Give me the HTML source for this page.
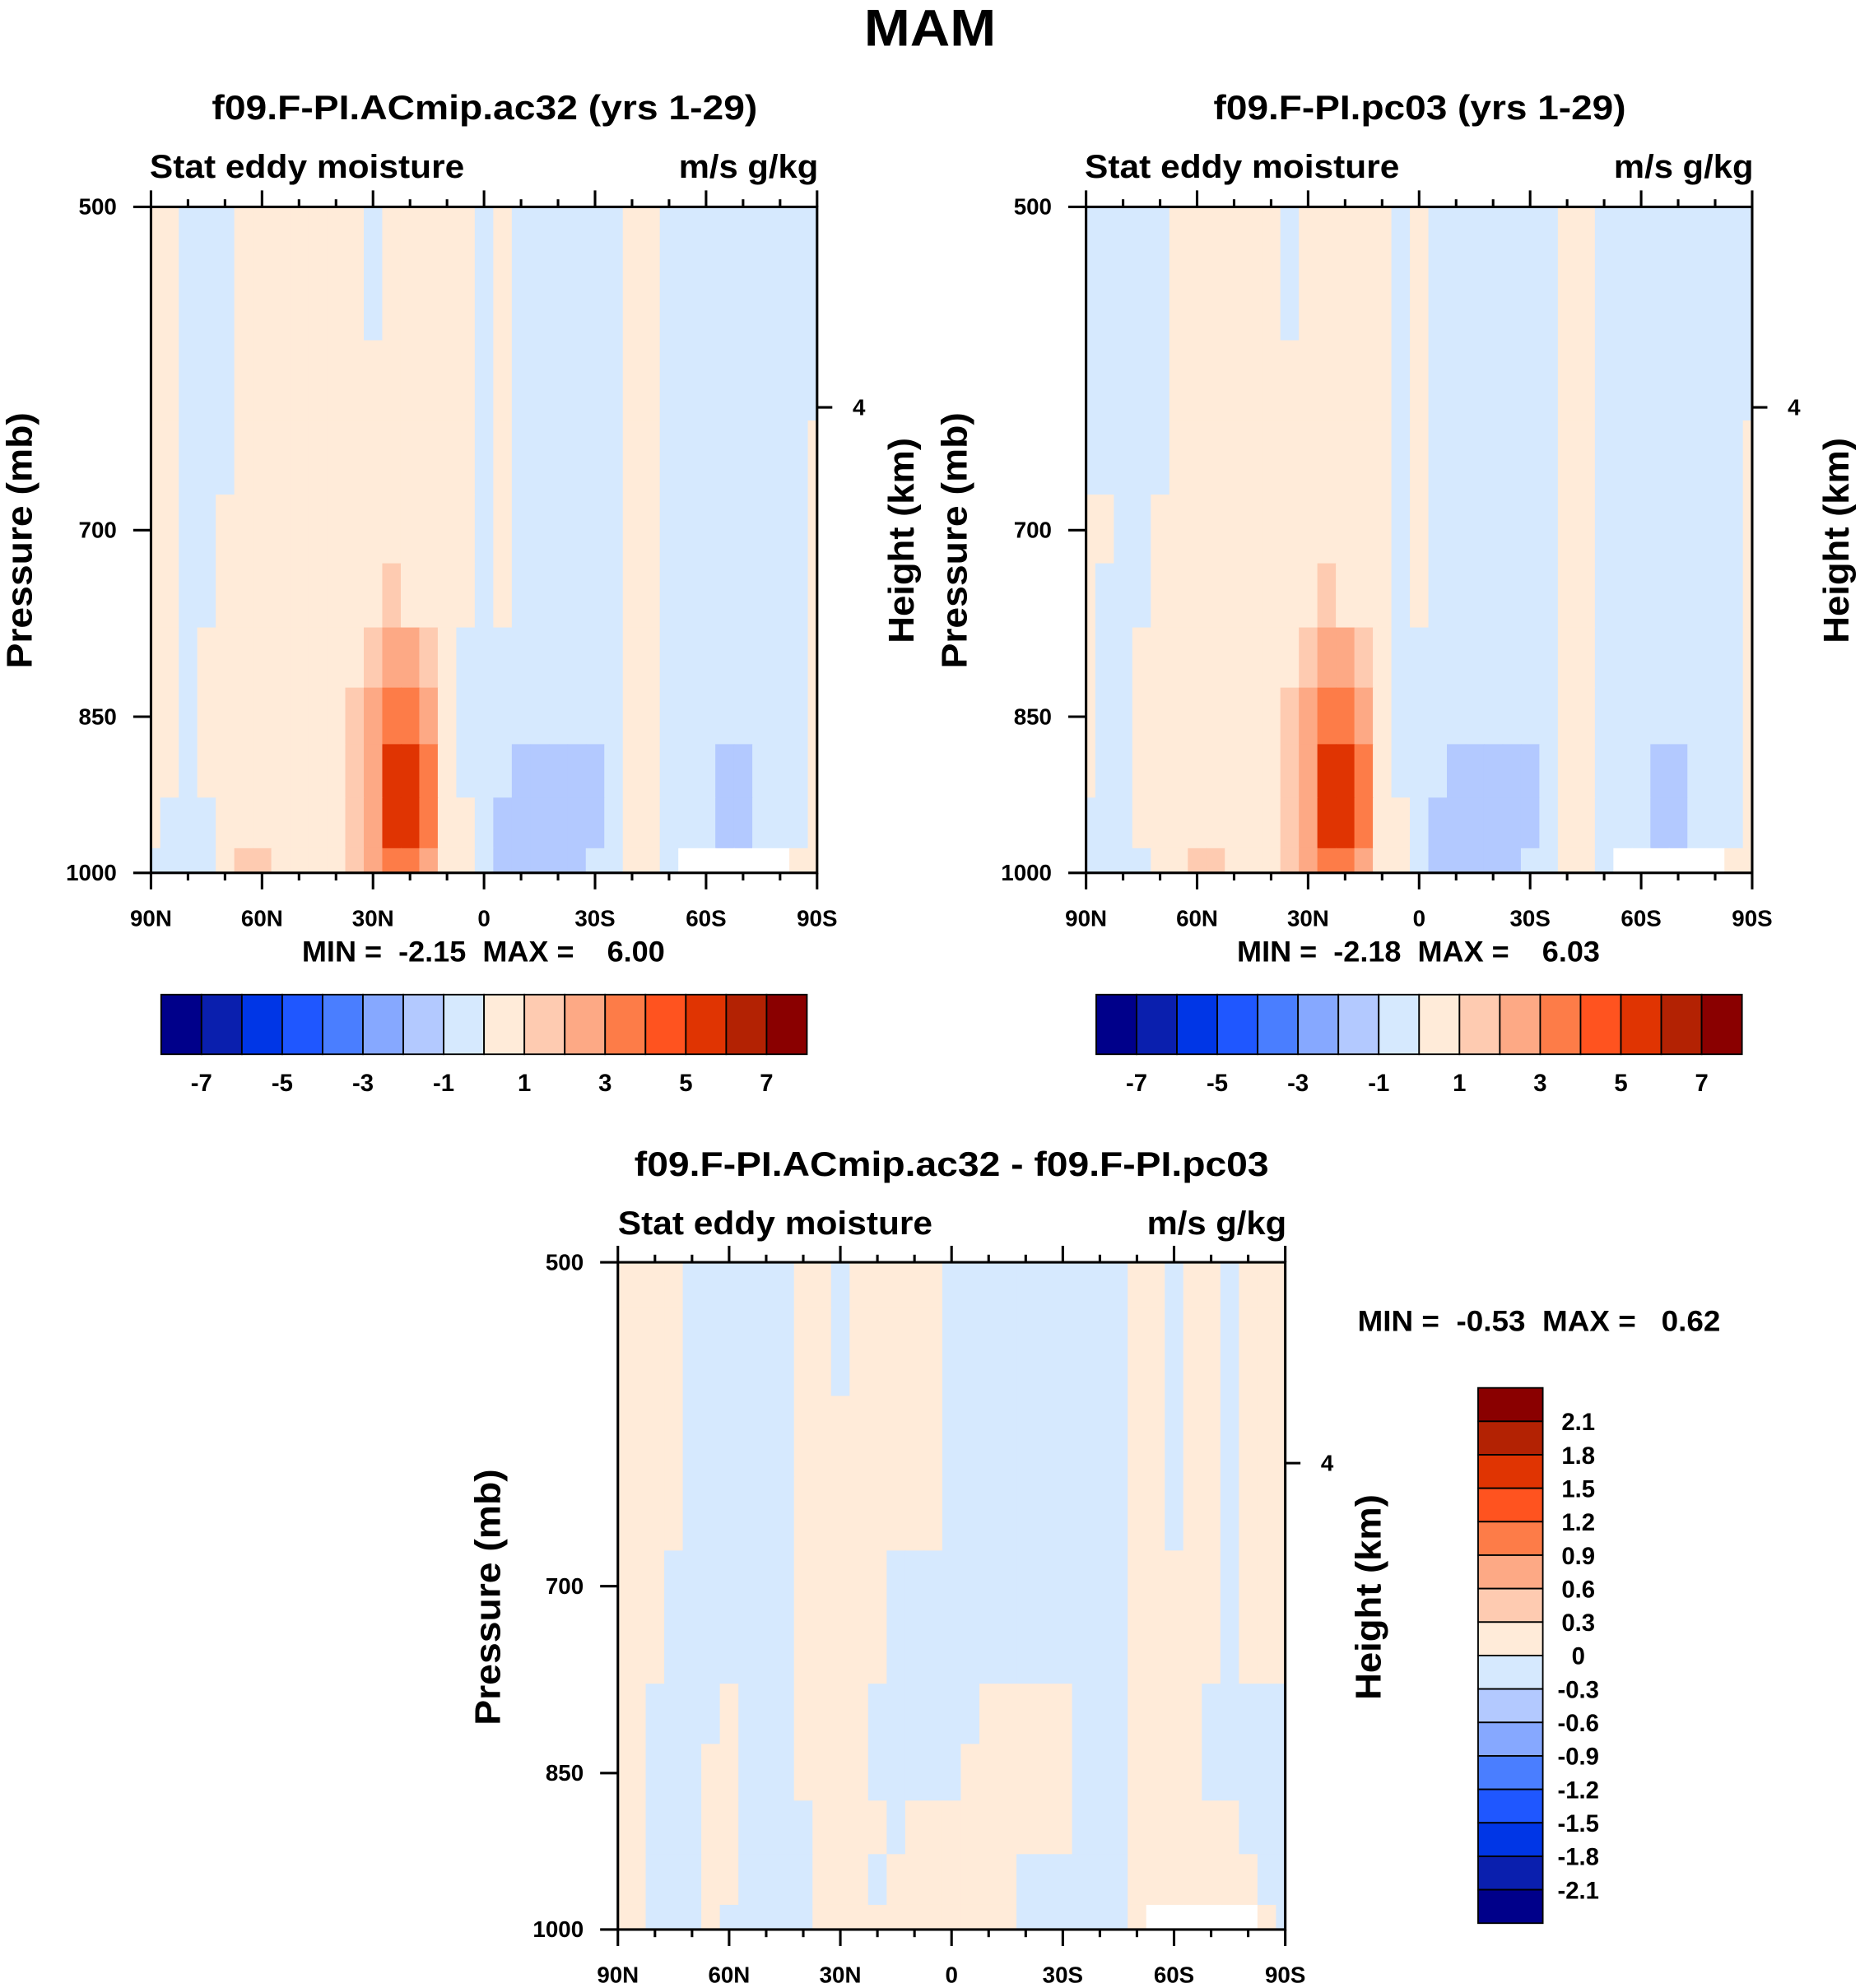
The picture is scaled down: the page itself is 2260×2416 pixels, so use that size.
<!DOCTYPE html>
<html><head><meta charset="utf-8"><style>
html,body{margin:0;padding:0;background:#fff;}
svg{display:block;font-family:"Liberation Sans",sans-serif;font-weight:bold;}
</style></head><body>
<svg id="fig" width="2260" height="2416" viewBox="0 0 1466 1567" xmlns="http://www.w3.org/2000/svg">
<rect x="0" y="0" width="1466" height="1567" fill="#fff"/>
<text x="733" y="36" font-size="41" text-anchor="middle" textLength="104" lengthAdjust="spacingAndGlyphs">MAM</text>
<text x="382" y="94" font-size="27" text-anchor="middle" textLength="430" lengthAdjust="spacingAndGlyphs">f09.F-PI.ACmip.ac32 (yrs 1-29)</text>
<text x="118" y="140" font-size="26" textLength="248" lengthAdjust="spacingAndGlyphs">Stat eddy moisture</text>
<text x="645" y="140" font-size="26" text-anchor="end" textLength="110" lengthAdjust="spacingAndGlyphs">m/s g/kg</text>
<text x="1119" y="94" font-size="27" text-anchor="middle" textLength="325" lengthAdjust="spacingAndGlyphs">f09.F-PI.pc03 (yrs 1-29)</text>
<text x="855" y="140" font-size="26" textLength="248" lengthAdjust="spacingAndGlyphs">Stat eddy moisture</text>
<text x="1382" y="140" font-size="26" text-anchor="end" textLength="110" lengthAdjust="spacingAndGlyphs">m/s g/kg</text>
<text x="750" y="927" font-size="27" text-anchor="middle" textLength="500" lengthAdjust="spacingAndGlyphs">f09.F-PI.ACmip.ac32 - f09.F-PI.pc03</text>
<text x="487" y="973" font-size="26" textLength="248" lengthAdjust="spacingAndGlyphs">Stat eddy moisture</text>
<text x="1014" y="973" font-size="26" text-anchor="end" textLength="110" lengthAdjust="spacingAndGlyphs">m/s g/kg</text>
<text transform="translate(25,426) rotate(-90)" font-size="28" text-anchor="middle" textLength="202" lengthAdjust="spacingAndGlyphs">Pressure (mb)</text>
<text transform="translate(720,426) rotate(-90)" font-size="28" text-anchor="middle" textLength="162" lengthAdjust="spacingAndGlyphs">Height (km)</text>
<text transform="translate(762,426) rotate(-90)" font-size="28" text-anchor="middle" textLength="202" lengthAdjust="spacingAndGlyphs">Pressure (mb)</text>
<text transform="translate(1457,426) rotate(-90)" font-size="28" text-anchor="middle" textLength="162" lengthAdjust="spacingAndGlyphs">Height (km)</text>
<text transform="translate(394,1259) rotate(-90)" font-size="28" text-anchor="middle" textLength="202" lengthAdjust="spacingAndGlyphs">Pressure (mb)</text>
<text transform="translate(1088,1259) rotate(-90)" font-size="28" text-anchor="middle" textLength="162" lengthAdjust="spacingAndGlyphs">Height (km)</text>
<text x="381" y="758" font-size="23" text-anchor="middle" xml:space="preserve" textLength="286" lengthAdjust="spacingAndGlyphs">MIN =  -2.15  MAX =    6.00</text>
<text x="1118" y="758" font-size="23" text-anchor="middle" xml:space="preserve" textLength="286" lengthAdjust="spacingAndGlyphs">MIN =  -2.18  MAX =    6.03</text>
<text x="1213" y="1049" font-size="23" text-anchor="middle" xml:space="preserve" textLength="286" lengthAdjust="spacingAndGlyphs">MIN =  -0.53  MAX =   0.62</text>
</svg>
<script>
const lats = [90,85,80,75,70,65,60,55,50,45,40,35,30,25,20,15,10,5,0,-5,-10,-15,-20,-25,-30,-35,-40,-45,-50,-55,-60,-65,-70,-75,-80,-85,-90];
const levels = [500,550,600,650,700,750,800,850,900,950,1000];
const xTickLats = [90,60,30,0,-30,-60,-90];
const xTickLabels = ["90N","60N","30N","0","30S","60S","90S"];
const yTickLevels = [500,700,850,1000];
const yTickLabels = ["500","700","850","1000"];
const heightTickP = [616];
const heightTickLabels = ["4"];
const cbLabelsA = ["-7","-5","-3","-1","1","3","5","7"];
const cbLabelsC = ["2.1","1.8","1.5","1.2","0.9","0.6","0.3","0","-0.3","-0.6","-0.9","-1.2","-1.5","-1.8","-2.1"];
const palette = ['#00008a','#0a1fae','#0036e6','#1f57ff','#4a7eff','#86a8ff','#b3c9ff','#d6e9fe','#ffebd9','#fecbb1','#fda985','#fd7c48','#ff531f','#e03402','#b32203','#8a0000'];

const fieldA = [
[.5,.5,-.5,-.5,-.5,.5,.5,.5,.5,.5,.5,.5,-.5,.5,.5,.5,.5,.5,-.5,.5,-.5,-.5,-.5,-.5,-.5,-.5,.5,.5,-.5,-.5,-.5,-.5,-.5,-.5,-.5,-.5,-.5],
[.5,.5,-.5,-.5,-.5,.5,.5,.5,.5,.5,.5,.5,-.5,.5,.5,.5,.5,.5,-.5,.5,-.5,-.5,-.5,-.5,-.5,-.5,.5,.5,-.5,-.5,-.5,-.5,-.5,-.5,-.5,-.5,-.5],
[.5,.5,-.5,-.5,-.5,.5,.5,.5,.5,.5,.5,.5,.5,.5,.5,.5,.5,.5,-.5,.5,-.5,-.5,-.5,-.5,-.5,-.5,.5,.5,-.5,-.5,-.5,-.5,-.5,-.5,-.5,-.5,-.5],
[.5,.5,-.5,-.5,-.5,.5,.5,.5,.5,.5,.5,.5,.5,.5,.5,.5,.5,.5,-.5,.5,-.5,-.5,-.5,-.5,-.5,-.5,.5,.5,-.5,-.5,-.5,-.5,-.5,-.5,-.5,-.5,.5],
[.5,.5,-.5,-.5,.5,.5,.5,.5,.5,.5,.5,.5,.5,.5,.5,.5,.5,.5,-.5,.5,-.5,-.5,-.5,-.5,-.5,-.5,.5,.5,-.5,-.5,-.5,-.5,-.5,-.5,-.5,-.5,.5],
[.5,.5,-.5,-.5,.5,.5,.5,.5,.5,.5,.5,.5,.5,1.5,.5,.5,.5,.5,-.5,.5,-.5,-.5,-.5,-.5,-.5,-.5,.5,.5,-.5,-.5,-.5,-.5,-.5,-.5,-.5,-.5,.5],
[.5,.5,-.5,.5,.5,.5,.5,.5,.5,.5,.5,.5,1.5,2.5,2.5,1.5,.5,-.5,-.5,-.5,-.5,-.5,-.5,-.5,-.5,-.5,.5,.5,-.5,-.5,-.5,-.5,-.5,-.5,-.5,-.5,.5],
[.5,.5,-.5,.5,.5,.5,.5,.5,.5,.5,.5,1.5,2.5,3.5,3.5,2.5,.5,-.5,-.5,-.5,-.5,-.5,-.5,-.5,-.5,-.5,.5,.5,-.5,-.5,-.5,-.5,-.5,-.5,-.5,-.5,.5],
[.5,.5,-.5,.5,.5,.5,.5,.5,.5,.5,.5,1.5,2.5,5.5,5.5,3.5,.5,-.5,-.5,-.5,-1.5,-1.5,-1.5,-1.5,-1.5,-.5,.5,.5,-.5,-.5,-.5,-1.5,-1.5,-.5,-.5,-.5,.5],
[.5,-.5,-.5,-.5,.5,.5,.5,.5,.5,.5,.5,1.5,2.5,5.5,5.5,3.5,.5,.5,-.5,-1.5,-1.5,-1.5,-1.5,-1.5,-1.5,-.5,.5,.5,-.5,-.5,-.5,-1.5,-1.5,-.5,-.5,-.5,.5],
[-.5,-.5,-.5,-.5,.5,1.5,1.5,.5,.5,.5,.5,1.5,2.5,3.5,3.5,2.5,.5,.5,-.5,-1.5,-1.5,-1.5,-1.5,-1.5,-.5,-.5,.5,.5,-.5,null,null,null,null,null,null,.5,.5]
];
const fieldB = [
[-.5,-.5,-.5,-.5,-.5,.5,.5,.5,.5,.5,.5,-.5,.5,.5,.5,.5,.5,-.5,.5,-.5,-.5,-.5,-.5,-.5,-.5,-.5,.5,.5,-.5,-.5,-.5,-.5,-.5,-.5,-.5,-.5,-.5],
[-.5,-.5,-.5,-.5,-.5,.5,.5,.5,.5,.5,.5,-.5,.5,.5,.5,.5,.5,-.5,.5,-.5,-.5,-.5,-.5,-.5,-.5,-.5,.5,.5,-.5,-.5,-.5,-.5,-.5,-.5,-.5,-.5,-.5],
[-.5,-.5,-.5,-.5,-.5,.5,.5,.5,.5,.5,.5,.5,.5,.5,.5,.5,.5,-.5,.5,-.5,-.5,-.5,-.5,-.5,-.5,-.5,.5,.5,-.5,-.5,-.5,-.5,-.5,-.5,-.5,-.5,-.5],
[-.5,-.5,-.5,-.5,-.5,.5,.5,.5,.5,.5,.5,.5,.5,.5,.5,.5,.5,-.5,.5,-.5,-.5,-.5,-.5,-.5,-.5,-.5,.5,.5,-.5,-.5,-.5,-.5,-.5,-.5,-.5,-.5,.5],
[.5,.5,-.5,-.5,.5,.5,.5,.5,.5,.5,.5,.5,.5,.5,.5,.5,.5,-.5,.5,-.5,-.5,-.5,-.5,-.5,-.5,-.5,.5,.5,-.5,-.5,-.5,-.5,-.5,-.5,-.5,-.5,.5],
[.5,-.5,-.5,-.5,.5,.5,.5,.5,.5,.5,.5,.5,.5,1.5,.5,.5,.5,-.5,.5,-.5,-.5,-.5,-.5,-.5,-.5,-.5,.5,.5,-.5,-.5,-.5,-.5,-.5,-.5,-.5,-.5,.5],
[.5,-.5,-.5,.5,.5,.5,.5,.5,.5,.5,.5,.5,1.5,2.5,2.5,1.5,.5,-.5,-.5,-.5,-.5,-.5,-.5,-.5,-.5,-.5,.5,.5,-.5,-.5,-.5,-.5,-.5,-.5,-.5,-.5,.5],
[.5,-.5,-.5,.5,.5,.5,.5,.5,.5,.5,.5,1.5,2.5,3.5,3.5,2.5,.5,-.5,-.5,-.5,-.5,-.5,-.5,-.5,-.5,-.5,.5,.5,-.5,-.5,-.5,-.5,-.5,-.5,-.5,-.5,.5],
[.5,-.5,-.5,.5,.5,.5,.5,.5,.5,.5,.5,1.5,2.5,5.5,5.5,3.5,.5,-.5,-.5,-.5,-1.5,-1.5,-1.5,-1.5,-1.5,-.5,.5,.5,-.5,-.5,-.5,-1.5,-1.5,-.5,-.5,-.5,.5],
[-.5,-.5,-.5,.5,.5,.5,.5,.5,.5,.5,.5,1.5,2.5,5.5,5.5,3.5,.5,.5,-.5,-1.5,-1.5,-1.5,-1.5,-1.5,-1.5,-.5,.5,.5,-.5,-.5,-.5,-1.5,-1.5,-.5,-.5,-.5,.5],
[-.5,-.5,-.5,-.5,.5,.5,1.5,1.5,.5,.5,.5,1.5,2.5,3.5,3.5,2.5,.5,.5,-.5,-1.5,-1.5,-1.5,-1.5,-1.5,-.5,-.5,.5,.5,-.5,null,null,null,null,null,null,.5,.5]
];
const fieldC = [
[.15,.15,.15,.15,-.15,-.15,-.15,-.15,-.15,-.15,.15,.15,-.15,.15,.15,.15,.15,.15,-.15,-.15,-.15,-.15,-.15,-.15,-.15,-.15,-.15,-.15,.15,.15,-.15,.15,.15,-.15,.15,.15,.15],
[.15,.15,.15,.15,-.15,-.15,-.15,-.15,-.15,-.15,.15,.15,-.15,.15,.15,.15,.15,.15,-.15,-.15,-.15,-.15,-.15,-.15,-.15,-.15,-.15,-.15,.15,.15,-.15,.15,.15,-.15,.15,.15,.15],
[.15,.15,.15,.15,-.15,-.15,-.15,-.15,-.15,-.15,.15,.15,.15,.15,.15,.15,.15,.15,-.15,-.15,-.15,-.15,-.15,-.15,-.15,-.15,-.15,-.15,.15,.15,-.15,.15,.15,-.15,.15,.15,.15],
[.15,.15,.15,.15,-.15,-.15,-.15,-.15,-.15,-.15,.15,.15,.15,.15,.15,.15,.15,.15,-.15,-.15,-.15,-.15,-.15,-.15,-.15,-.15,-.15,-.15,.15,.15,-.15,.15,.15,-.15,.15,.15,.15],
[.15,.15,.15,-.15,-.15,-.15,-.15,-.15,-.15,-.15,.15,.15,.15,.15,.15,-.15,-.15,-.15,-.15,-.15,-.15,-.15,-.15,-.15,-.15,-.15,-.15,-.15,.15,.15,.15,.15,.15,-.15,.15,.15,.15],
[.15,.15,.15,-.15,-.15,-.15,-.15,-.15,-.15,-.15,.15,.15,.15,.15,.15,-.15,-.15,-.15,-.15,-.15,-.15,-.15,-.15,-.15,-.15,-.15,-.15,-.15,.15,.15,.15,.15,.15,-.15,.15,.15,.15],
[.15,.15,-.15,-.15,-.15,-.15,.15,-.15,-.15,-.15,.15,.15,.15,.15,-.15,-.15,-.15,-.15,-.15,-.15,.15,.15,.15,.15,.15,-.15,-.15,-.15,.15,.15,.15,.15,-.15,-.15,-.15,-.15,-.15],
[.15,.15,-.15,-.15,-.15,.15,.15,-.15,-.15,-.15,.15,.15,.15,.15,-.15,-.15,-.15,-.15,-.15,.15,.15,.15,.15,.15,.15,-.15,-.15,-.15,.15,.15,.15,.15,-.15,-.15,-.15,-.15,-.15],
[.15,.15,-.15,-.15,-.15,.15,.15,-.15,-.15,-.15,-.15,.15,.15,.15,.15,-.15,.15,.15,.15,.15,.15,.15,.15,.15,.15,-.15,-.15,-.15,.15,.15,.15,.15,.15,.15,-.15,-.15,-.15],
[.15,.15,-.15,-.15,-.15,.15,.15,-.15,-.15,-.15,-.15,.15,.15,.15,-.15,.15,.15,.15,.15,.15,.15,.15,-.15,-.15,-.15,-.15,-.15,-.15,.15,.15,.15,.15,.15,.15,.15,-.15,-.15],
[.15,.15,-.15,-.15,-.15,.15,-.15,-.15,-.15,-.15,-.15,.15,.15,.15,.15,.15,.15,.15,.15,.15,.15,.15,-.15,-.15,-.15,-.15,-.15,-.15,.15,null,null,null,null,null,null,.15,-.15]
];

const NS = "http://www.w3.org/2000/svg";
const svg = document.getElementById('fig');
function el(tag, attrs, parent){
  const e = document.createElementNS(NS, tag);
  for (const k in attrs) e.setAttribute(k, attrs[k]);
  (parent || svg).appendChild(e);
  return e;
}
function binA(v){ return Math.max(0, Math.min(15, Math.floor(v) + 8)); }
function binC(v){ return Math.max(0, Math.min(15, Math.floor(v / 0.3) + 8)); }

function drawPanel(id, field, px, py, pw, ph, binFn){
  const xOf = lat => px + (90 - lat) / 180 * pw;
  const yOf = p => py + Math.log(p / 500) / Math.log(2) * ph;
  const g = el('g', {});
  
  
  for (let k = 0; k < levels.length; k++) {
    const pTop = k === 0 ? levels[0] : Math.sqrt(levels[k] * levels[k-1]);
    const pBot = k === levels.length - 1 ? levels[k] : Math.sqrt(levels[k] * levels[k+1]);
    for (let i = 0; i < lats.length; i++) {
      const v = field[k][i];
      const x1 = Math.max(px, xOf(lats[i] + 2.5));
      const x2 = Math.min(px + pw, xOf(lats[i] - 2.5));
      const y1 = yOf(pTop), y2 = yOf(pBot);
      const fill = v === null ? '#ffffff' : palette[binFn(v)];
      const r = el('rect', {x: x1.toFixed(2), y: y1.toFixed(2), width: (x2 - x1 + 0.6).toFixed(2), height: (y2 - y1 + 0.6).toFixed(2), fill: fill}, g);
      
      
    }
  }
  const fr = el('rect', {x: px, y: py, width: pw, height: ph, fill: 'none', stroke: '#000', 'stroke-width': 2});
  
  
  for (let lat = 90; lat >= -90; lat -= 10) {
    const major = lat % 30 === 0;
    const L = major ? 13 : 6;
    const x = xOf(lat);
    const t1 = el('line', {x1: x, x2: x, y1: py, y2: py - L, stroke: '#000', 'stroke-width': 2});
    
    
    const t2 = el('line', {x1: x, x2: x, y1: py + ph, y2: py + ph + L, stroke: '#000', 'stroke-width': 2});
    
    
  }
  xTickLats.forEach((lat, j) => {
    const t = el('text', {x: xOf(lat), y: py + ph + 42, 'font-size': 18, 'text-anchor': 'middle'});
    t.textContent = xTickLabels[j];
    
    
  });
  yTickLevels.forEach((p, j) => {
    const y = yOf(p);
    const tk = el('line', {x1: px - 14, x2: px, y1: y, y2: y, stroke: '#000', 'stroke-width': 2});
    
    
    const t = el('text', {x: px - 27, y: y + 6, 'font-size': 18, 'text-anchor': 'end'});
    t.textContent = yTickLabels[j];
    
    
  });
  heightTickP.forEach((p, j) => {
    const y = yOf(p);
    const tk = el('line', {x1: px + pw, x2: px + pw + 12, y1: y, y2: y, stroke: '#000', 'stroke-width': 2});
    
    
    const t = el('text', {x: px + pw + 28, y: y + 6, 'font-size': 18});
    t.textContent = heightTickLabels[j];
    
    
  });
}
drawPanel('panel1', fieldA, 119, 163, 525, 525, binA);
drawPanel('panel2', fieldB, 856, 163, 525, 525, binA);
drawPanel('panel3', fieldC, 487, 995, 526, 526, binC);

function hColorbar(id, x0, y0, w, h){
  const bw = w / 16;
  for (let i = 0; i < 16; i++) {
    const r = el('rect', {x: x0 + i * bw, y: y0, width: bw, height: h, fill: palette[i], stroke: '#000', 'stroke-width': 1.2});
    
    
  }
  cbLabelsA.forEach((lab, j) => {
    const t = el('text', {x: x0 + (1 + 2 * j) * bw, y: y0 + h + 29, 'font-size': 19, 'text-anchor': 'middle'});
    t.textContent = lab;
    
    
  });
}
hColorbar('colorbar1', 127, 784, 509, 47);
hColorbar('colorbar2', 864, 784, 509, 47);

(function(){
  const x0 = 1165, y0 = 1094, w = 51, h = 422, bh = h / 16;
  for (let i = 0; i < 16; i++) {
    const r = el('rect', {x: x0, y: y0 + i * bh, width: w, height: bh, fill: palette[15 - i], stroke: '#000', 'stroke-width': 1.2});
    
    
  }
  cbLabelsC.forEach((lab, j) => {
    const t = el('text', {x: 1244, y: y0 + (j + 1) * bh + 7, 'font-size': 19, 'text-anchor': 'middle'});
    t.textContent = lab;
    
    
  });
})();
</script>
</body></html>
